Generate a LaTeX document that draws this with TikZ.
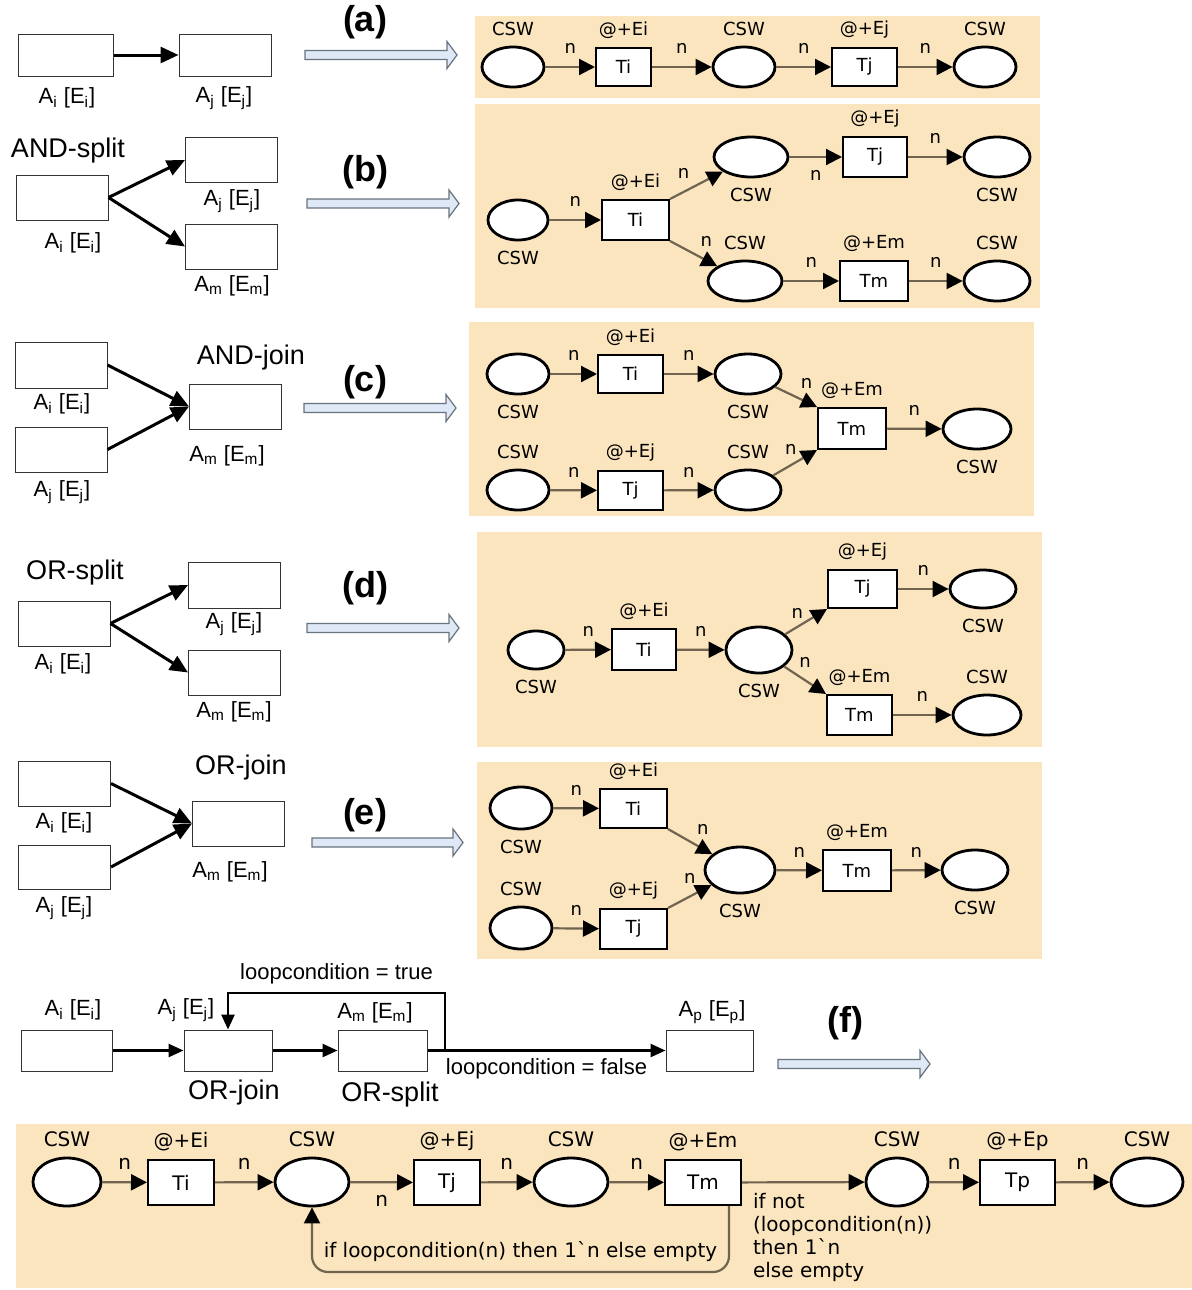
\documentclass[tikz,border=0pt]{standalone}
\usepackage{fontspec}
\setmainfont{Liberation Sans}
\newfontfamily\cpnfont{DejaVu Sans}
\usetikzlibrary{arrows.meta,shapes.geometric}

\definecolor{netbg}{RGB}{251,229,190}
\definecolor{arccol}{RGB}{112,100,80}
\definecolor{hollowfill}{RGB}{222,232,246}
\definecolor{hollowline}{RGB}{105,115,125}

\newcommand{\actlab}[1]{A\textsubscript{#1} [E\textsubscript{#1}]}
\newcommand{\cpnsize}{\fontsize{9}{11}\selectfont}

\tikzset{
  actbox/.style={draw=black!80, line width=0.5pt, minimum width=46pt, minimum height=22.5pt, inner sep=0},
  flow/.style={line width=1.5pt, -{Triangle[length=9pt,width=8pt]}},
  smallflow/.style={line width=1.3pt, -{Triangle[length=7.5pt,width=6.5pt]}},
  actlbl/.style={font=\fontsize{11}{13}\selectfont, inner sep=0},
  patlbl/.style={font=\fontsize{13.5}{16}\selectfont, inner sep=0},
  casetag/.style={font=\fontsize{18}{20}\selectfont\bfseries, inner sep=0},
  hollowarrow/.style={fill=hollowfill, draw=hollowline, line width=0.6pt},
  netpanel/.style={fill=netbg},
  cpn/.style={font=\cpnfont\cpnsize, inner sep=0},
  place/.style={ellipse, draw, line width=1.4pt, fill=white, minimum width=31pt, minimum height=20pt, inner sep=0},
  trans/.style={draw, line width=1pt, fill=white, minimum width=33pt, minimum height=20pt, inner sep=0, font=\cpnfont\cpnsize},
  netarc/.style={draw=arccol, line width=1.1pt, -{Triangle[length=8pt,width=8pt,color=black]}},
  nlab/.style={cpn, above=6pt},
  csw above/.style={label={[cpn, label distance=4.5pt]above:CSW}},
  csw below/.style={label={[cpn, label distance=4.5pt]below:CSW}},
  timed/.style={label={[cpn, label distance=4pt]above:@+#1}},
}

\begin{document}
\begin{tikzpicture}[x=0.5pt,y=-0.5pt]
  \useasboundingbox (0,0) rectangle (1192,1290);

  \node[actbox, minimum width=47.5pt, minimum height=21pt] (a1) at (65.5,55) {};
  \node[actbox, minimum height=21pt] (a2) at (225,55) {};
  \draw[flow] (a1.east) -- (a2.west);
  \node[actlbl] (a1l) at (67,98) {\actlab{i}};
  \node[actlbl] (a2l) at (224,98) {\actlab{j}};
  \node[casetag] (tga) at (365,22) {(a)};
  \filldraw[hollowarrow] (305,50.5) -- (447,50.5) -- (447,41.5) -- (457,55) -- (447,68.5) -- (447,59.5) -- (305,59.5) -- cycle;

  \fill[netpanel] (475,16) rectangle (1040,98);
  \node[place, csw above] (pa1) at (513,67) {};
  \node[trans, minimum width=27.5pt, minimum height=19pt, timed=Ei] (ta1) at (623.5,67) {Ti};
  \node[place, csw above] (pa2) at (744,67) {};
  \node[trans, minimum width=32.5pt, minimum height=19pt, timed=Ej] (ta2) at (864.5,67) {Tj};
  \node[place, csw above] (pa3) at (985,67) {};
  \draw[netarc] (pa1) -- node[nlab] {n} (ta1);
  \draw[netarc] (ta1) -- node[nlab] {n} (pa2);
  \draw[netarc] (pa2) -- node[nlab] {n} (ta2);
  \draw[netarc] (ta2) -- node[nlab] {n} (pa3);

  \node[patlbl] (bsp) at (68,151) {AND-split};
  \node[actbox] (b1) at (62,197.5) {};
  \node[actbox] (b2) at (231.5,160) {};
  \node[actbox] (b3) at (231.5,246.5) {};
  \draw[flow] (b1.east) -- (b2.west);
  \draw[flow] (b1.east) -- (b3.west);
  \node[actlbl] (b1l) at (73,243) {\actlab{i}};
  \node[actlbl] (b2l) at (232,201) {\actlab{j}};
  \node[actlbl] (b3l) at (232,286) {\actlab{m}};
  \node[casetag] (tgb) at (365,172) {(b)};
  \filldraw[hollowarrow] (307,199) -- (449,199) -- (449,190) -- (459,203.5) -- (449,217) -- (449,208) -- (307,208) -- cycle;

  \fill[netpanel] (475,104) rectangle (1040,308);
  \node[place, minimum width=30pt, csw below] (pb1) at (518,220) {};
  \node[trans, minimum width=33.5pt, timed=Ei] (tb1) at (635.5,220) {Ti};
  \node[place, minimum width=37pt, csw below] (pb2) at (751,157) {};
  \node[place, minimum width=37pt, csw above] (pb3) at (745,281) {};
  \node[trans, minimum width=32pt, timed=Ej] (tb2) at (875,157) {Tj};
  \node[trans, minimum width=34pt, timed=Em] (tb3) at (874,281) {Tm};
  \node[place, minimum width=33pt, csw below] (pb4) at (997,157) {};
  \node[place, minimum width=33pt, csw above] (pb5) at (997,281) {};
  \draw[netarc] (pb1) -- node[nlab] {n} (tb1);
  \draw[netarc] (tb1.north east) -- node[cpn, above left=3pt] {n} (pb2);
  \draw[netarc] (tb1.south east) -- node[cpn, above right=3pt] {n} (pb3);
  \draw[netarc] (pb2) -- node[cpn, below=6pt] {n} (tb2);
  \draw[netarc] (tb2) -- node[nlab] {n} (pb4);
  \draw[netarc] (pb3) -- node[nlab] {n} (tb3);
  \draw[netarc] (tb3) -- node[nlab] {n} (pb5);

  \node[actbox, minimum height=23pt] (c1) at (61,365) {};
  \node[actbox] (c2) at (61,449.5) {};
  \node[actbox] (c3) at (235.5,406.5) {};
  \draw[flow] (c1.east) -- (c3.west);
  \draw[flow] (c2.east) -- (c3.west);
  \node[patlbl] (cjn) at (251,358) {AND-join};
  \node[actlbl] (c1l) at (62,404) {\actlab{i}};
  \node[actlbl] (c2l) at (62,492) {\actlab{j}};
  \node[actlbl] (c3l) at (227,456) {\actlab{m}};
  \node[casetag] (tgc) at (365,382) {(c)};
  \filldraw[hollowarrow] (304,403.5) -- (446,403.5) -- (446,394.5) -- (456,408) -- (446,421.5) -- (446,412.5) -- (304,412.5) -- cycle;

  \fill[netpanel] (469,322) rectangle (1034,516);
  \node[place, csw below] (pc1) at (518,374) {};
  \node[trans, minimum width=32.5pt, minimum height=19pt, timed=Ei] (tc1) at (630.5,374) {Ti};
  \node[place, minimum width=33pt, csw below] (pc2) at (748,374) {};
  \node[place, csw above] (pc3) at (518,490) {};
  \node[trans, minimum width=32.5pt, minimum height=19.5pt, timed=Ej] (tc2) at (630.5,490.5) {Tj};
  \node[place, minimum width=33pt, csw above] (pc4) at (748,490) {};
  \node[trans, minimum width=34pt, minimum height=20.5pt, timed=Em] (tc3) at (852,428.5) {Tm};
  \node[place, minimum width=34pt, csw below] (pc5) at (977,429) {};
  \draw[netarc] (pc1) -- node[nlab] {n} (tc1);
  \draw[netarc] (tc1) -- node[nlab] {n} (pc2);
  \draw[netarc] (pc3) -- node[nlab] {n} (tc2);
  \draw[netarc] (tc2) -- node[nlab] {n} (pc4);
  \draw[netarc] (pc2) -- node[nlab, pos=0.75] {n} (tc3.north west);
  \draw[netarc] (pc4) -- node[cpn, pos=0.4, above=5pt] {n} (tc3.south west);
  \draw[netarc] (tc3) -- node[nlab] {n} (pc5);

  \node[patlbl] (dsp) at (75,573) {OR-split};
  \node[actbox] (d1) at (64,623.5) {};
  \node[actbox, minimum height=23pt] (d2) at (234.5,585) {};
  \node[actbox] (d3) at (234.5,672.5) {};
  \draw[flow] (d1.east) -- (d2.west);
  \draw[flow] (d1.east) -- (d3.west);
  \node[actlbl] (d1l) at (63,664) {\actlab{i}};
  \node[actlbl] (d2l) at (234,624) {\actlab{j}};
  \node[actlbl] (d3l) at (234,712) {\actlab{m}};
  \node[casetag] (tgd) at (365,588) {(d)};
  \filldraw[hollowarrow] (307,623.5) -- (449,623.5) -- (449,614.5) -- (459,628) -- (449,641.5) -- (449,632.5) -- (307,632.5) -- cycle;

  \fill[netpanel] (477,532) rectangle (1042,747);
  \node[place, minimum width=28pt, minimum height=19pt, csw below] (pd1) at (536,650) {};
  \node[trans, minimum width=32pt, minimum height=20.5pt, timed=Ei] (td1) at (644,649.5) {Ti};
  \node[place, minimum width=33pt, minimum height=23pt, csw below] (pd2) at (759,650) {};
  \node[trans, minimum width=34.5pt, minimum height=19pt, timed=Ej] (td2) at (862.5,589) {Tj};
  \node[place, minimum width=33pt, minimum height=19pt, csw below] (pd3) at (983,589) {};
  \node[trans, minimum width=32.5pt, timed=Em] (td3) at (859.5,715) {Tm};
  \node[place, minimum width=34pt, csw above] (pd4) at (987,715) {};
  \draw[netarc] (pd1) -- node[nlab] {n} (td1);
  \draw[netarc] (td1) -- node[nlab] {n} (pd2);
  \draw[netarc] (pd2) -- node[cpn, above left=1pt] {n} (td2.south west);
  \draw[netarc] (pd2) -- node[nlab] {n} (td3.north west);
  \draw[netarc] (td2) -- node[nlab] {n} (pd3);
  \draw[netarc] (td3) -- node[nlab] {n} (pd4);

  \node[actbox] (e1) at (64.5,783.5) {};
  \node[actbox, minimum height=22pt] (e2) at (64.5,867) {};
  \node[actbox] (e3) at (238.5,823.5) {};
  \draw[flow] (e1.east) -- (e3.west);
  \draw[flow] (e2.east) -- (e3.west);
  \node[patlbl] (ejn) at (241,768) {OR-join};
  \node[actlbl] (e1l) at (64,823) {\actlab{i}};
  \node[actlbl] (e2l) at (64,908) {\actlab{j}};
  \node[actlbl] (e3l) at (230,872) {\actlab{m}};
  \node[casetag] (tge) at (365,815) {(e)};
  \filldraw[hollowarrow] (312,838) -- (453,838) -- (453,829) -- (463,842.5) -- (453,856) -- (453,847) -- (312,847) -- cycle;

  \fill[netpanel] (477,762) rectangle (1042,959);
  \node[place, minimum height=21pt, csw below] (pe1) at (521,808) {};
  \node[trans, minimum width=33.5pt, minimum height=19.5pt, timed=Ei] (te1) at (633.5,808.5) {Ti};
  \node[place, minimum height=21pt, csw above] (pe2) at (521,928) {};
  \node[trans, minimum width=33.5pt, timed=Ej] (te2) at (633.5,929) {Tj};
  \node[place, minimum width=35pt, minimum height=23pt, csw below] (pe3) at (740,870) {};
  \node[trans, minimum width=34pt, minimum height=20.5pt, timed=Em] (te3) at (857,870.5) {Tm};
  \node[place, minimum width=33pt, csw below] (pe4) at (975,870) {};
  \draw[netarc] (pe1) -- node[nlab] {n} (te1);
  \draw[netarc] (pe2) -- node[nlab] {n} (te2);
  \draw[netarc] (te1.south east) -- node[cpn, above right=3pt] {n} (pe3);
  \draw[netarc] (te2.north east) -- node[nlab] {n} (pe3);
  \draw[netarc] (pe3) -- node[nlab] {n} (te3);
  \draw[netarc] (te3) -- node[nlab] {n} (pe4);

  \node[actbox, minimum width=45.5pt, minimum height=20.5pt] (f1) at (66.5,1050.5) {};
  \node[actbox, minimum width=44pt, minimum height=20.5pt] (f2) at (228,1050.5) {};
  \node[actbox, minimum width=44.5pt, minimum height=20.5pt] (f3) at (382.5,1050.5) {};
  \node[actbox, minimum width=43.5pt, minimum height=20.5pt] (f4) at (709.5,1050.5) {};
  \node[actlbl] (f1l) at (73,1010) {\actlab{i}};
  \node[actlbl] (f2l) at (186,1010) {\actlab{j}};
  \node[actlbl] (f3l) at (375,1013) {\actlab{m}};
  \node[actlbl] (f4l) at (712,1012) {\actlab{p}};
  \node[patlbl] (fjn) at (234,1093) {OR-join};
  \node[patlbl] (fsp) at (390,1095) {OR-split};
  \draw[smallflow] (f1.east) -- (f2.west);
  \draw[smallflow] (f2.east) -- (f3.west);
  \draw[smallflow] (f3.east) -- node[actlbl, below=3.5pt] {loopcondition = false} (f4.west);
  \coordinate (lp) at (445,1050.5);
  \coordinate (lt) at (445,993);
  \draw[smallflow] (lp) -- (lt) -- node[actlbl, above=4pt] {loopcondition = true} (f2.north |- lt) -- (f2.north);
  \node[casetag] (tgf) at (845,1023) {(f)};
  \filldraw[hollowarrow] (778,1059.5) -- (920,1059.5) -- (920,1050.5) -- (930,1064) -- (920,1077.5) -- (920,1068.5) -- (778,1068.5) -- cycle;

  \fill[netpanel] (16,1124) rectangle (1192,1288);
  \begin{scope}
    \renewcommand{\cpnsize}{\fontsize{10}{11.5}\selectfont}
    \node[place, minimum width=34pt, minimum height=24pt, csw above] (pf1) at (67,1182) {};
    \node[trans, minimum width=33pt, minimum height=22.5pt, timed=Ei] (tf1) at (181,1182.5) {Ti};
    \node[place, minimum width=37pt, minimum height=24pt, csw above] (pf2) at (312,1182) {};
    \node[trans, minimum width=33pt, minimum height=22.5pt, timed=Ej] (tf2) at (447,1182.5) {Tj};
    \node[place, minimum width=37pt, minimum height=24pt, csw above] (pf3) at (571,1182) {};
    \node[trans, minimum width=38pt, minimum height=22.5pt, timed=Em] (tf3) at (703,1182.5) {Tm};
    \node[place, minimum width=31pt, minimum height=24pt, csw above] (pf4) at (897,1182) {};
    \node[trans, minimum width=37.5pt, minimum height=22.5pt, timed=Ep] (tf4) at (1017.5,1182.5) {Tp};
    \node[place, minimum width=36pt, minimum height=24pt, csw above] (pf5) at (1147,1182) {};
    \draw[netarc] (pf1) -- node[nlab] {n} (tf1);
    \draw[netarc] (tf1) -- node[nlab] {n} (pf2);
    \draw[netarc] (pf2) -- node[cpn, below=6pt] {n} (tf2);
    \draw[netarc] (tf2) -- node[nlab] {n} (pf3);
    \draw[netarc] (pf3) -- node[nlab] {n} (tf3);
    \draw[netarc] (tf3) -- node[cpn, pos=0, below right=5pt, align=left] {if not\\(loopcondition(n))\\then 1\textasciigrave n\\else empty} (pf4);
    \draw[netarc] (pf4) -- node[nlab] {n} (tf4);
    \draw[netarc] (tf4) -- node[nlab] {n} (pf5);
    \coordinate (lpb) at (312,1272);
    \draw[netarc, rounded corners=8pt] ([xshift=13pt]tf3.south) |- node[cpn, pos=0.75, above=4.5pt] {if loopcondition(n) then 1\textasciigrave n else empty} (lpb) -- (pf2.south);
  \end{scope}
\end{tikzpicture}
\end{document}
